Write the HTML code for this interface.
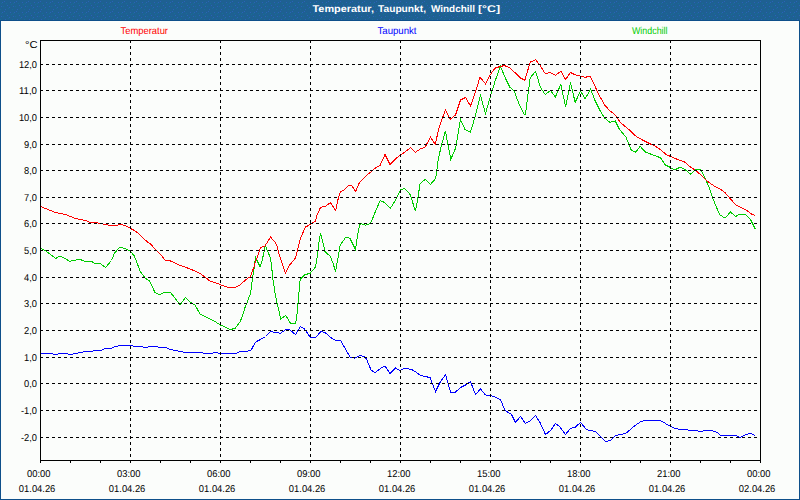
<!DOCTYPE html>
<html><head><meta charset="utf-8"><style>
html,body{margin:0;padding:0;background:#fbfdfb;}
body{width:800px;height:500px;overflow:hidden;position:relative;}
svg{position:absolute;left:0;top:0;display:block;}
text{font-family:"Liberation Sans",sans-serif;text-rendering:geometricPrecision;}
</style></head><body>
<svg width="800" height="500" viewBox="0 0 800 500">
<rect x="0" y="0" width="800" height="500" fill="#fbfdfb"/>
<defs><pattern id="dz" x="0" y="0" width="12" height="10" patternUnits="userSpaceOnUse">
<rect width="12" height="10" fill="#1e6092"/>
<g fill="#2a62b8"><rect x="4" y="1" width="1" height="1"/><rect x="10" y="2" width="1" height="1"/><rect x="2" y="2" width="1" height="1"/><rect x="7" y="5" width="1" height="1"/><rect x="1" y="6" width="1" height="1"/><rect x="9" y="7" width="1" height="1"/><rect x="5" y="9" width="1" height="1"/></g>
<g fill="#166e98"><rect x="1" y="3" width="1" height="1"/><rect x="6" y="3" width="1" height="1"/><rect x="11" y="4" width="1" height="1"/><rect x="3" y="6" width="1" height="1"/><rect x="8" y="8" width="1" height="1"/><rect x="0" y="9" width="1" height="1"/></g>
</pattern></defs>
<rect x="0" y="0" width="800" height="20" fill="url(#dz)"/>
<path d="M0.5 20V500M799.5 20V500M0 499.5H800" fill="none" stroke="#0e4f8a" stroke-width="1" shape-rendering="crispEdges"/>
<path d="M0 20.5H800" stroke="#0e4f8a" stroke-width="1" shape-rendering="crispEdges"/>
<text x="312.5" y="12" fill="#ffffff" font-weight="bold" font-size="9.8" textLength="61.5" lengthAdjust="spacingAndGlyphs">Temperatur,</text><text x="378" y="12" fill="#ffffff" font-weight="bold" font-size="9.8" textLength="48" lengthAdjust="spacingAndGlyphs">Taupunkt,</text><text x="431" y="12" fill="#ffffff" font-weight="bold" font-size="9.8" textLength="44" lengthAdjust="spacingAndGlyphs">Windchill</text><text x="478" y="12" fill="#ffffff" font-weight="bold" font-size="9.8" textLength="22" lengthAdjust="spacingAndGlyphs">[°C]</text>
<g font-size="10" fill="#000" stroke="#000" stroke-width="0">
<text x="120.5" y="34" fill="#ff0000" stroke="#ff0000" textLength="47.5" lengthAdjust="spacingAndGlyphs">Temperatur</text>
<text x="377.5" y="34" fill="#0000ff" stroke="#0000ff" textLength="39" lengthAdjust="spacingAndGlyphs">Taupunkt</text>
<text x="632" y="34" fill="#00cc00" stroke="#00cc00" textLength="35.5" lengthAdjust="spacingAndGlyphs">Windchill</text>
<text x="37.6" y="48" text-anchor="end" textLength="12.6" lengthAdjust="spacingAndGlyphs">°C</text>
<text x="37" y="68" text-anchor="end" textLength="18.10" lengthAdjust="spacingAndGlyphs" font-size="10">12,0</text>
<text x="37" y="94" text-anchor="end" textLength="18.10" lengthAdjust="spacingAndGlyphs" font-size="10">11,0</text>
<text x="37" y="121" text-anchor="end" textLength="18.10" lengthAdjust="spacingAndGlyphs" font-size="10">10,0</text>
<text x="37" y="148" text-anchor="end" textLength="12.93" lengthAdjust="spacingAndGlyphs" font-size="10">9,0</text>
<text x="37" y="174" text-anchor="end" textLength="12.93" lengthAdjust="spacingAndGlyphs" font-size="10">8,0</text>
<text x="37" y="201" text-anchor="end" textLength="12.93" lengthAdjust="spacingAndGlyphs" font-size="10">7,0</text>
<text x="37" y="227" text-anchor="end" textLength="12.93" lengthAdjust="spacingAndGlyphs" font-size="10">6,0</text>
<text x="37" y="254" text-anchor="end" textLength="12.93" lengthAdjust="spacingAndGlyphs" font-size="10">5,0</text>
<text x="37" y="281" text-anchor="end" textLength="12.93" lengthAdjust="spacingAndGlyphs" font-size="10">4,0</text>
<text x="37" y="307" text-anchor="end" textLength="12.93" lengthAdjust="spacingAndGlyphs" font-size="10">3,0</text>
<text x="37" y="334" text-anchor="end" textLength="12.93" lengthAdjust="spacingAndGlyphs" font-size="10">2,0</text>
<text x="37" y="361" text-anchor="end" textLength="12.93" lengthAdjust="spacingAndGlyphs" font-size="10">1,0</text>
<text x="37" y="387" text-anchor="end" textLength="12.93" lengthAdjust="spacingAndGlyphs" font-size="10">0,0</text>
<text x="37" y="414" text-anchor="end" textLength="16.02" lengthAdjust="spacingAndGlyphs" font-size="10">-1,0</text>
<text x="37" y="441" text-anchor="end" textLength="16.02" lengthAdjust="spacingAndGlyphs" font-size="10">-2,0</text>
<text x="38.8" y="477" text-anchor="middle" textLength="23.5" lengthAdjust="spacingAndGlyphs">00:00</text><text x="37.1" y="492" text-anchor="middle" textLength="36.5" lengthAdjust="spacingAndGlyphs">01.04.26</text>
<text x="128.8" y="477" text-anchor="middle" textLength="23.5" lengthAdjust="spacingAndGlyphs">03:00</text><text x="127.1" y="492" text-anchor="middle" textLength="36.5" lengthAdjust="spacingAndGlyphs">01.04.26</text>
<text x="218.8" y="477" text-anchor="middle" textLength="23.5" lengthAdjust="spacingAndGlyphs">06:00</text><text x="217.1" y="492" text-anchor="middle" textLength="36.5" lengthAdjust="spacingAndGlyphs">01.04.26</text>
<text x="308.8" y="477" text-anchor="middle" textLength="23.5" lengthAdjust="spacingAndGlyphs">09:00</text><text x="307.1" y="492" text-anchor="middle" textLength="36.5" lengthAdjust="spacingAndGlyphs">01.04.26</text>
<text x="398.8" y="477" text-anchor="middle" textLength="23.5" lengthAdjust="spacingAndGlyphs">12:00</text><text x="397.1" y="492" text-anchor="middle" textLength="36.5" lengthAdjust="spacingAndGlyphs">01.04.26</text>
<text x="488.8" y="477" text-anchor="middle" textLength="23.5" lengthAdjust="spacingAndGlyphs">15:00</text><text x="487.1" y="492" text-anchor="middle" textLength="36.5" lengthAdjust="spacingAndGlyphs">01.04.26</text>
<text x="578.8" y="477" text-anchor="middle" textLength="23.5" lengthAdjust="spacingAndGlyphs">18:00</text><text x="577.1" y="492" text-anchor="middle" textLength="36.5" lengthAdjust="spacingAndGlyphs">01.04.26</text>
<text x="668.8" y="477" text-anchor="middle" textLength="23.5" lengthAdjust="spacingAndGlyphs">21:00</text><text x="667.1" y="492" text-anchor="middle" textLength="36.5" lengthAdjust="spacingAndGlyphs">01.04.26</text>
<text x="758.8" y="477" text-anchor="middle" textLength="23.5" lengthAdjust="spacingAndGlyphs">00:00</text><text x="757.1" y="492" text-anchor="middle" textLength="36.5" lengthAdjust="spacingAndGlyphs">02.04.26</text>
</g>
<g fill="none" stroke-width="1" shape-rendering="crispEdges" stroke-linejoin="miter">
<polyline points="250.5,350.5 251.5,349.5 252.5,347.5 253.5,345.5 254.5,344 255.5,342.5 256.5,341.5 258.5,340.5 260.5,339.5 262,338.5 264,337.5 265.5,336.5 267,335 269,333 270.5,331.5 272.5,331.5 273.5,332.5 278,332.5 280,333.5 286,329.5 290,330 295.5,334.5 300.5,326.5 304.5,329 310,337 315.5,337.5 321,331.5 325,332.5 332,338.5 336,340.5 340.5,340.5 350,357 354.5,358 360,355.5 364,356.5 366.5,359 371,370 375,372.5 380.5,368.5 385,366 390,373.5 395.5,368 400,370.5 404.5,368.5 406.5,368.5 411.5,369.5 416,372 420.5,375.5 425,376.5 430,377.5 435.5,391.5 440,382.5 445.5,374.5 448,383 450.5,392 455.5,392 460.5,387.5 465.5,385 470.5,381.5 475.5,394.5 480.5,389 485.5,395 490.5,395.5 496,397.5 500.5,399.5 505,410.5 511.5,414.5 515.5,422.5 520.5,416.5 525.5,423.5 530,421 535.5,415.5 540,422.5 545.5,434.5 550.5,430.5 555.5,423.5 560,427 565.5,434.5 570.5,428.5 575.5,427 580.5,422.5 586.5,429.5 590,430.5 595.5,431.5 605.5,441.5 610.5,440.5 615.5,435.5 620.5,434.5 625.5,433.5 630.5,429.5 635.5,425" stroke="#0000ff"/>
<path d="M41 353h12v1h-12zM53 354h5v1h-5zM58 353h10v1h-10zM68 354h5v1h-5zM73 353h5v1h-5zM78 352h5v1h-5zM83 351h10v1h-10zM93 350h9v1h-9zM102 349h2v1h-2zM104 348h8v1h-8zM112 347h2v1h-2zM114 346h4v1h-4zM118 345h15v1h-15zM133 346h10v1h-10zM143 347h5v1h-5zM148 346h10v1h-10zM158 347h9v1h-9zM167 348h2v1h-2zM169 349h4v1h-4zM173 350h5v1h-5zM178 351h5v1h-5zM183 352h20v1h-20zM203 353h10v1h-10zM213 352h5v1h-5zM218 353h19v1h-19zM237 352h2v1h-2zM239 351h9v1h-9zM248 350h3v1h-3zM636 424h1v1h-1zM637 423h2v1h-2zM639 422h1v1h-1zM640 421h3v1h-3zM643 420h18v1h-18zM661 421h2v1h-2zM663 422h2v1h-2zM665 423h1v1h-1zM666 424h2v1h-2zM668 425h3v1h-3zM671 426h1v1h-1zM672 427h2v1h-2zM674 428h4v1h-4zM678 429h10v1h-10zM688 430h10v1h-10zM698 431h5v1h-5zM703 430h10v1h-10zM713 431h3v1h-3zM716 432h2v1h-2zM718 433h1v1h-1zM719 434h1v1h-1zM720 435h17v1h-17zM737 436h2v1h-2zM739 437h2v1h-2zM741 436h2v1h-2zM743 435h2v1h-2zM745 434h3v1h-3zM748 433h4v1h-4zM752 434h2v1h-2zM754 435h1v1h-1z" fill="#0000ff" stroke="none"/>
<polyline points="40,248.5 41,248.5 45,250.5 48,252.5 52,255.5 55.5,258.5 60,256 65,258.5 69.5,261.2 74,260.5 79.5,259.2 84.5,261.2 91,261.2 95,263.5 100,263.5 105.5,267.5 111.5,260.5 114.5,253 120,247 127,249.5 130,251 134,255.5 136,260 140,271 145,278 149.5,281 155,292.5 159.5,294.5 164.5,292.5 170.5,292.5 175,298 180,305 185.5,297.5 190.5,302.5 195,305 200,314 205,316.5 210,319 215,321.5 220.5,325 225,327 230,329.5 235,328.5 240,322 242.5,316 245,307.5 247,303 250.6,293 252.6,277.8 254.6,265 255.4,257.2 260.2,266.8 262.2,260.4 264.2,250.8 265.4,245.6 267.4,250.8 269.8,256.4 271.4,263.6 272.6,277 275,293 277,303 278.6,309.4 280.6,319 285.8,315.4 290.6,323.4 295.4,323.4 296.6,318.2 297.4,309.4 298.2,300.6 300.2,279.4 305,274.5 310,273.5 315.5,267 317.5,255 318.5,245 320.5,233 322.5,241 325,251.5 327,253.5 330,256 333,263 335.5,271.5 338,258 340,246 342,242.5 346,237 350,238.5 355.5,249.5 357.5,236 359.5,226 360.4,223.4 365.8,225.2 370.6,223.4 376,210.2 380.2,200.6 384.4,202.4 390.4,208.4 395.8,199.4 400.6,189.8 404.8,188.6 410.2,194.6 415.4,211.1 418,197.5 420,183.8 425.2,179.3 430.4,184.5 435.6,178.6 436.9,170.2 438.2,159.4 441.8,143.8 445.4,131.2 450.8,159.4 455.6,148 460.5,119.5 465,129.5 470.5,132 475,117 480.5,95.5 485.5,113.5 490.2,97 495,81.4 500.4,66.4 505.8,79 510,87.4 514.2,91 518.4,102.4 523.8,113.8 525.4,114.4 530.2,77.8 535.6,71.2 540.4,87.4 545.2,94.6 550.6,90.4 555.4,97 560.8,84.4 565.6,106.6 570.4,82.6 575.2,102.4 580.4,91 585.2,98.8 590.6,89.2 594.8,100 600.2,110.8 604.4,118 609.8,122.2 615.2,121 619.6,129.6 625.8,136.8 631.2,150 635.4,152.4 640.2,146.4 645,151.8 651,154.2 655.8,156 660.6,157.8 665.4,165 670.2,167.4 674.8,170 680.2,167 685.6,170 690.4,174.2 695.2,170 700.6,169.4 706,180.2 709.6,188.6 712.6,197.6 715.6,205.4 720,215 725,218 730.5,212 735.5,216.5 740,214 745,214 750.5,219.5 755.2,229" stroke="#00cc00"/>
<polyline points="129.5,227.5 130.5,228.5 134.5,230.5 139,234 143,238 147.5,242 150,243.5 156,250 161,255 165,260 169.5,260.5 175,263 180,265.5 185,267 190,269 195,271 200,273.5 205,277 210,281.2 215,282.5 220,284.5 225,286.5 229,287.5 235,287.5 240,285 245,280.5 249,277.5 250.5,276.5 253.8,267.4 255.4,262 257.8,255.6 260.2,248 261.8,247.2 265,246 267.4,242 270.6,237.2 275.4,242.4 277,246 279.4,255.6 282.6,264.4 285.4,273.4 289.4,265.2 292.2,262 295.4,258 297.8,249.2 299.6,241.1 302,234.8 304.4,229.4 305.9,226.7 308,225.8 310.4,224 313.4,222.5 315.5,221 317.2,214.6 320.4,207.8 323.2,206.6 325.6,206.2 330.4,202.6 335.6,210.6 337.6,201 339.6,193.8 340.8,191.8 343.6,190.2 348.8,185 351.2,185 355.6,191.4 359.5,182.5 363.5,178.5 367.5,174.5 371.5,171.5 376,167.5 380,165.5 385,154.5 390,164.5 395,159.5 400,155 404.5,152.5 410.5,147.5 415.4,152.2 420.8,148.6 425,147.4 430.4,137.2 435.2,144.4 438.2,131.2 440.6,122.8 445.4,110.2 450.2,119.2 455.5,115 460.5,100 465.5,97.5 470.5,106 475.5,92 480,77.2 485.4,83.8 490.2,74.8 495,68.2 500.4,66.4 504.6,65.6 509.4,67.6 515.4,73 520.2,77.8 524.8,80.2 530.2,62.2 535.6,59.6 540.4,65.8 545.2,73.6 550,72.4 555.4,75.4 560.8,71.2 565.6,79.6 570.4,72.4 575.2,74.8 580.4,76 585.2,77.4 590,76 594.2,84.4 599,95.2 605,105.4 609.8,110.8 614.6,114.4 619.2,120.6 621,123 627.6,128.4 636,136.2 642,139.8 649.2,143.4 654.6,145.8 659.4,148.8 666.6,154.8 670,156.2 675.4,158.6 680.2,160.4 685,162.2 690.4,167 695.2,170 700,174.2 704.8,179 710.8,183.8 715.6,186.8 720.4,189.2 725.2,192.8 727.5,195.5 730,198.5 736,205 740,207 745,209.5 749,212 752,214.5 755.2,215.5" stroke="#ff0000"/>
<path d="M41 206h1v1h-1zM42 207h2v1h-2zM44 208h3v1h-3zM47 209h2v1h-2zM49 210h3v1h-3zM52 211h2v1h-2zM54 212h4v1h-4zM58 213h5v1h-5zM63 214h4v1h-4zM67 215h2v1h-2zM69 216h3v1h-3zM72 217h2v1h-2zM74 218h4v1h-4zM78 219h5v1h-5zM83 220h4v1h-4zM87 221h2v1h-2zM89 222h9v1h-9zM98 223h5v1h-5zM103 224h5v1h-5zM108 225h10v1h-10zM118 224h5v1h-5zM123 225h3v1h-3zM126 226h2v1h-2zM128 227h2v1h-2z" fill="#ff0000" stroke="none"/>
</g>
<g stroke="#000" stroke-width="1" stroke-dasharray="3 3" fill="none" shape-rendering="crispEdges">
<path d="M40 64.5H760"/><path d="M40 90.5H760"/><path d="M40 117.5H760"/><path d="M40 144.5H760"/><path d="M40 170.5H760"/><path d="M40 197.5H760"/><path d="M40 223.5H760"/><path d="M40 250.5H760"/><path d="M40 277.5H760"/><path d="M40 303.5H760"/><path d="M40 330.5H760"/><path d="M40 357.5H760"/><path d="M40 383.5H760"/><path d="M40 410.5H760"/><path d="M40 437.5H760"/><path d="M130.5 40V460"/><path d="M220.5 40V460"/><path d="M310.5 40V460"/><path d="M400.5 40V460"/><path d="M490.5 40V460"/><path d="M580.5 40V460"/><path d="M670.5 40V460"/>
</g>
<g stroke="#000" stroke-width="1" fill="none" shape-rendering="crispEdges">
<path d="M40.5 40V463M40 40.5H761M760.5 40V463M40 460.5H761M40.5 460V463M70.5 460V463M100.5 460V463M130.5 460V463M160.5 460V463M190.5 460V463M220.5 460V463M250.5 460V463M280.5 460V463M310.5 460V463M340.5 460V463M370.5 460V463M400.5 460V463M430.5 460V463M460.5 460V463M490.5 460V463M520.5 460V463M550.5 460V463M580.5 460V463M610.5 460V463M640.5 460V463M670.5 460V463M700.5 460V463M730.5 460V463M760.5 460V463"/>
</g>
</svg>
</body></html>
